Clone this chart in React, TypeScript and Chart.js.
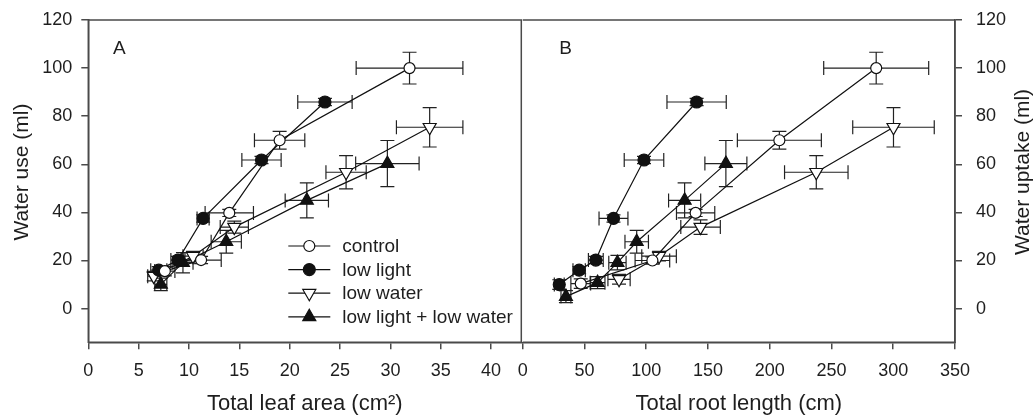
import React, { useEffect, useRef } from "react";
import { Chart, registerables } from "chart.js";

Chart.register(...registerables);

const seriesLabels = ["control", "low light", "low water", "low light + low water"];

// ---- Panel A: total leaf area (cm²) vs water use (ml)
const controlLeaf = [7.6, 11.2, 14.0, 19.0, 31.9];
const controlLeafErr = [1.0, 2.0, 2.4, 2.5, 5.3];
const controlUse = [15.6, 20.2, 39.8, 70, 100];
const controlUseErr = [2, 1.5, 1.5, 3.7, 6.6];

const lowLightLeaf = [7.0, 8.9, 11.4, 17.2, 23.5];
const lowLightLeafErr = [0.8, 0.7, 0.6, 1.95, 2.7];
const lowLightUse = [16, 20.2, 37.5, 61.8, 85.9];
const lowLightUseErr = [1.5, 1.5, 1.5, 1.5, 1.5];

const lowWaterLeaf = [6.5, 10.4, 14.5, 25.6, 33.9];
const lowWaterLeafErr = [0.6, 1.0, 1.4, 2.0, 3.3];
const lowWaterUse = [13.5, 21.8, 33.9, 56.7, 75.4];
const lowWaterUseErr = [2, 2, 2.5, 6.9, 8.2];

const bothLeaf = [7.2, 9.4, 13.7, 21.7, 29.7];
const bothLeafErr = [0.6, 1.0, 1.5, 2.15, 3.15];
const bothUse = [10.1, 19.1, 27.8, 45, 60.3];
const bothUseErr = [2.6, 4.2, 4.7, 7.3, 9.6];

// ---- Panel B: total root length (cm) vs water uptake (ml)
const controlRoot = [47, 105, 140, 207.8, 286.2];
const controlRootErr = [8, 14, 15.5, 34, 42.5];
const controlUptake = [10.4, 20, 39.8, 70, 100];
const controlUptakeErr = [2, 1.5, 1.5, 3.7, 6.6];

const lowLightRoot = [29.6, 45.7, 59.2, 73.5, 98.2, 140.8];
const lowLightRootErr = [4, 5, 6, 11.7, 16, 24];
const lowLightUptake = [10, 16, 20.2, 37.5, 61.8, 85.9];
const lowLightUptakeErr = [2, 1.5, 1.5, 1.5, 1.5, 1.5];

const lowWaterRoot = [78, 110.4, 144, 237.7, 300.2];
const lowWaterRootErr = [9, 14, 16, 25.7, 33];
const lowWaterUptake = [12.2, 21.8, 33.9, 56.7, 75.4];
const lowWaterUptakeErr = [2, 2, 3, 6.9, 8.2];

const bothRoot = [35, 60.6, 76.7, 92.3, 131.1, 164.5];
const bothRootErr = [4, 6, 7, 9.5, 13, 17];
const bothUptake = [5, 10.8, 19.1, 27.8, 45, 60.3];
const bothUptakeErr = [2.5, 2.5, 3, 4.7, 7.3, 9.6];

// ---- tick labels
const leafTicks = [0, 5, 10, 15, 20, 25, 30, 35, 40];
const rootTicks = [0, 50, 100, 150, 200, 250, 300, 350];
const waterTicks = [0, 20, 40, 60, 80, 100, 120];

const FONT = "'Liberation Sans', Arial, sans-serif";
const INK = "#1e1e1e";
const AXIS = "#4a4a4a";

type Style = { pointStyle: string; fill: string; radius: number; rotation: number };
const styles: Style[] = [
  { pointStyle: "circle", fill: "#ffffff", radius: 5.5, rotation: 0 },
  { pointStyle: "circle", fill: "#111111", radius: 6, rotation: 0 },
  { pointStyle: "triangle", fill: "#ffffff", radius: 7.5, rotation: 180 },
  { pointStyle: "triangle", fill: "#111111", radius: 7.5, rotation: 0 },
];

function makeDataset(i: number, xs: number[], xe: number[], ys: number[], ye: number[]) {
  const s = styles[i];
  return {
    label: seriesLabels[i],
    data: xs.map((v, k) => ({ x: v, y: ys[k] })),
    xErr: xe,
    yErr: ye,
    showLine: true,
    borderColor: "#111",
    borderWidth: 1.2,
    pointStyle: s.pointStyle,
    pointRadius: s.radius,
    pointRotation: s.rotation,
    pointBackgroundColor: s.fill,
    pointBorderColor: "#111",
    pointBorderWidth: 1.2,
  } as any;
}

function drawMarker(ctx: CanvasRenderingContext2D, s: Style, x: number, y: number) {
  ctx.save();
  ctx.fillStyle = s.fill;
  ctx.strokeStyle = "#111";
  ctx.lineWidth = 1.2;
  ctx.beginPath();
  if (s.pointStyle === "circle") {
    ctx.arc(x, y, s.radius, 0, Math.PI * 2);
  } else {
    let rad = (s.rotation * Math.PI) / 180;
    ctx.moveTo(x + Math.sin(rad) * s.radius, y - Math.cos(rad) * s.radius);
    rad += (2 * Math.PI) / 3;
    ctx.lineTo(x + Math.sin(rad) * s.radius, y - Math.cos(rad) * s.radius);
    rad += (2 * Math.PI) / 3;
    ctx.lineTo(x + Math.sin(rad) * s.radius, y - Math.cos(rad) * s.radius);
    ctx.closePath();
  }
  ctx.fill();
  ctx.stroke();
  ctx.restore();
}

const errorBarPlugin = {
  id: "errorBars",
  beforeDatasetsDraw(chart: any) {
    const { ctx, chartArea, scales } = chart;
    const xs = scales.x;
    const ys = scales.y;
    const cap = 7;
    ctx.save();
    ctx.beginPath();
    ctx.rect(chartArea.left, chartArea.top, chartArea.right - chartArea.left, chartArea.bottom - chartArea.top);
    ctx.clip();
    ctx.strokeStyle = "#222";
    ctx.lineWidth = 1.2;
    chart.data.datasets.forEach((ds: any) => {
      ds.data.forEach((p: any, i: number) => {
        const px = xs.getPixelForValue(p.x);
        const py = ys.getPixelForValue(p.y);
        const xe = ds.xErr[i];
        const ye = ds.yErr[i];
        ctx.beginPath();
        if (xe > 0) {
          const x1 = xs.getPixelForValue(p.x - xe);
          const x2 = xs.getPixelForValue(p.x + xe);
          ctx.moveTo(x1, py);
          ctx.lineTo(x2, py);
          ctx.moveTo(x1, py - cap);
          ctx.lineTo(x1, py + cap);
          ctx.moveTo(x2, py - cap);
          ctx.lineTo(x2, py + cap);
        }
        if (ye > 0) {
          const y1 = ys.getPixelForValue(p.y - ye);
          const y2 = ys.getPixelForValue(p.y + ye);
          ctx.moveTo(px, y1);
          ctx.lineTo(px, y2);
          ctx.moveTo(px - cap, y1);
          ctx.lineTo(px + cap, y1);
          ctx.moveTo(px - cap, y2);
          ctx.lineTo(px + cap, y2);
        }
        ctx.stroke();
      });
    });
    ctx.restore();
  },
};

function framePlugin(drawLeft: boolean) {
  return {
    id: "frame",
    afterDraw(chart: any) {
      const { ctx, chartArea } = chart;
      const { left, right, top, bottom } = chartArea;
      ctx.save();
      ctx.strokeStyle = AXIS;
      ctx.lineWidth = 1.5;
      ctx.beginPath();
      ctx.moveTo(left, top);
      ctx.lineTo(right, top);
      ctx.lineTo(right, bottom);
      ctx.lineTo(left, bottom);
      if (drawLeft) ctx.lineTo(left, top);
      ctx.stroke();
      ctx.restore();
    },
  };
}

function annotationPlugin(panel: string, panelDx: number, yTitle: string, titleX: number, withLegend: boolean) {
  return {
    id: "annot" + panel,
    afterDraw(chart: any) {
      const { ctx, chartArea } = chart;
      ctx.save();
      ctx.fillStyle = INK;
      ctx.font = `19px ${FONT}`;
      ctx.textAlign = "center";
      ctx.textBaseline = "middle";
      ctx.fillText(panel, chartArea.left + panelDx, chartArea.top + 29);

      ctx.save();
      ctx.font = `21px ${FONT}`;
      ctx.translate(titleX, 172);
      ctx.rotate(-Math.PI / 2);
      ctx.fillText(yTitle, 0, 0);
      ctx.restore();

      if (withLegend) {
        chart.data.datasets.forEach((ds: any, i: number) => {
          const y = chartArea.top + 226 + i * 23.6;
          const x0 = chartArea.left + 200;
          ctx.strokeStyle = "#111";
          ctx.lineWidth = 1.2;
          ctx.beginPath();
          ctx.moveTo(x0, y);
          ctx.lineTo(x0 + 42, y);
          ctx.stroke();
          drawMarker(ctx, styles[i], x0 + 21, y);
          ctx.fillStyle = INK;
          ctx.font = `19px ${FONT}`;
          ctx.textAlign = "left";
          ctx.textBaseline = "middle";
          ctx.fillText(ds.label, x0 + 54, y + 1);
        });
      }
      ctx.restore();
    },
  };
}

function axisX(min: number, max: number, ticks: number[], title: string) {
  return {
    type: "linear",
    position: "bottom",
    min,
    max,
    afterBuildTicks: (s: any) => {
      s.ticks = ticks.map((v) => ({ value: v }));
    },
    afterFit: (s: any) => {
      s.height = 74.7;
      s.paddingLeft = 0;
      s.paddingRight = 0;
    },
    ticks: { color: INK, font: { family: FONT, size: 18 }, padding: 11, maxRotation: 0, autoSkip: false },
    grid: { drawOnChartArea: false, drawTicks: true, tickLength: 7, color: AXIS, lineWidth: 1.5 },
    border: { display: true, color: AXIS, width: 1.5 },
    title: { display: true, text: title, color: INK, font: { family: FONT, size: 22 }, padding: { top: 0, bottom: 0 } },
  } as any;
}

function axisY(position: string, width: number, pad: number) {
  return {
    type: "linear",
    position,
    min: -14,
    max: 120,
    afterBuildTicks: (s: any) => {
      s.ticks = waterTicks.map((v) => ({ value: v }));
    },
    afterFit: (s: any) => {
      s.width = width;
      s.paddingTop = 0;
      s.paddingBottom = 0;
    },
    ticks: { color: INK, font: { family: FONT, size: 18 }, padding: pad, autoSkip: false },
    grid: { drawOnChartArea: false, drawTicks: true, tickLength: 7, color: AXIS, lineWidth: 1.5 },
    border: { display: true, color: AXIS, width: 1.5 },
  } as any;
}

export default function App() {
  const refA = useRef<HTMLCanvasElement | null>(null);
  const refB = useRef<HTMLCanvasElement | null>(null);

  useEffect(() => {
    const chartA = new Chart(refA.current as HTMLCanvasElement, {
      type: "scatter",
      data: {
        datasets: [
          makeDataset(0, controlLeaf, controlLeafErr, controlUse, controlUseErr),
          makeDataset(1, lowLightLeaf, lowLightLeafErr, lowLightUse, lowLightUseErr),
          makeDataset(2, lowWaterLeaf, lowWaterLeafErr, lowWaterUse, lowWaterUseErr),
          makeDataset(3, bothLeaf, bothLeafErr, bothUse, bothUseErr),
        ],
      },
      options: {
        animation: false,
        responsive: false,
        maintainAspectRatio: false,
        layout: { padding: { top: 20, right: 8.3, left: 0, bottom: 0 } },
        plugins: { legend: { display: false }, tooltip: { enabled: false } },
        scales: {
          x: axisX(0, 43, leafTicks, "Total leaf area (cm²)"),
          y: axisY("left", 88.3, 9),
        },
      } as any,
      plugins: [errorBarPlugin, framePlugin(true), annotationPlugin("A", 31, "Water use (ml)", 22, true)],
    });

    const chartB = new Chart(refB.current as HTMLCanvasElement, {
      type: "scatter",
      data: {
        datasets: [
          makeDataset(0, controlRoot, controlRootErr, controlUptake, controlUptakeErr),
          makeDataset(1, lowLightRoot, lowLightRootErr, lowLightUptake, lowLightUptakeErr),
          makeDataset(2, lowWaterRoot, lowWaterRootErr, lowWaterUptake, lowWaterUptakeErr),
          makeDataset(3, bothRoot, bothRootErr, bothUptake, bothUptakeErr),
        ],
      },
      options: {
        animation: false,
        responsive: false,
        maintainAspectRatio: false,
        layout: { padding: { top: 20, right: 0, left: 7.7, bottom: 0 } },
        plugins: { legend: { display: false }, tooltip: { enabled: false } },
        scales: {
          x: axisX(0, 350, rootTicks, "Total root length (cm)"),
          y: axisY("right", 81, 14),
        },
      } as any,
      plugins: [errorBarPlugin, framePlugin(false), annotationPlugin("B", 43, "Water uptake (ml)", 1023 - 514, false)],
    });

    return () => {
      chartA.destroy();
      chartB.destroy();
    };
  }, []);

  return (
    <div style={{ position: "fixed", left: 0, top: 0, width: 1036, height: 417, background: "#fff" }}>
      <canvas
        ref={refA}
        width={530}
        height={417}
        style={{ position: "absolute", left: 0, top: 0, width: 530, height: 417 }}
      />
      <canvas
        ref={refB}
        width={522}
        height={417}
        style={{ position: "absolute", left: 514, top: 0, width: 522, height: 417 }}
      />
    </div>
  );
}
